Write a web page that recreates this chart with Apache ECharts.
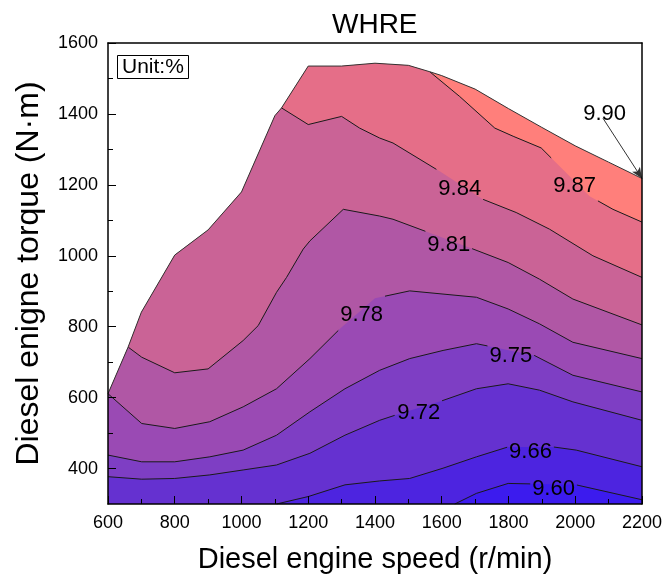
<!DOCTYPE html>
<html>
<head>
<meta charset="utf-8">
<script src="https://cdn.jsdelivr.net/npm/echarts@6/dist/echarts.min.js"></script>
<style>
  html, body { margin: 0; padding: 0; background: #fff; }
  #chart { width: 665px; height: 579px; }
</style>
</head>
<body>
<div id="chart"></div>
<script>
// Axis ticks
const speedTicks = [600, 800, 1000, 1200, 1400, 1600, 1800, 2000, 2200];
const torqueTicks = [400, 600, 800, 1000, 1200, 1400, 1600];
const torqueMinorTicks = [500, 700, 900, 1100, 1300, 1500];

// Full-load torque curve, [speed r/min, torque N·m]
const fullLoad = [[600, 611], [660, 742], [700, 841], [800, 1002], [900, 1073], [1000, 1180],
  [1100, 1395], [1120, 1417], [1200, 1535], [1300, 1535], [1400, 1543], [1500, 1537],
  [1564, 1519], [1600, 1508], [1700, 1470], [1800, 1415], [1900, 1362], [2000, 1310],
  [2100, 1264], [2200, 1218]];

// Iso-WHRE lines (%), [speed, torque]
const iso960 = [[1639, 300], [1704, 330], [1799, 358], [2003, 354], [2200, 312]];
const iso966 = [[1105, 300], [1200, 321], [1310, 354], [1414, 365], [1504, 372], [1604, 401],
  [1704, 433], [1799, 461], [1933, 461], [2003, 452], [2200, 405]];
const iso972 = [[600, 377], [701, 370], [800, 372], [905, 382], [1005, 396], [1105, 410],
  [1205, 443], [1310, 494], [1414, 536], [1459, 550], [1604, 592], [1704, 625], [1799, 639],
  [1893, 621], [1993, 588], [2200, 536]];
const iso975 = [[600, 438], [701, 419], [800, 419], [905, 433], [1005, 452], [1105, 494],
  [1205, 560], [1310, 625], [1414, 677], [1504, 710], [1604, 733], [1704, 752], [1878, 719],
  [1993, 663], [2200, 616]];
const iso978 = [[600, 611], [701, 527], [800, 513], [905, 532], [1005, 574], [1105, 625],
  [1205, 710], [1295, 794], [1400, 880], [1504, 901], [1704, 883], [1799, 850], [1893, 808],
  [1993, 756], [2200, 710]];
const iso981 = [[661, 742], [701, 714], [800, 670], [900, 681], [1005, 761], [1050, 803],
  [1105, 897], [1135, 939], [1185, 1019], [1205, 1042], [1305, 1131], [1414, 1112],
  [1454, 1103], [1694, 1019], [1799, 981], [1893, 934], [1993, 878], [2200, 805]];
const iso984 = [[1120, 1417], [1200, 1370], [1300, 1393], [1354, 1360], [1414, 1332],
  [1454, 1318], [1594, 1238], [1724, 1159], [1823, 1122], [1923, 1075], [2053, 1000], [2200, 939]];
const iso987 = [[1564, 1519], [1654, 1449], [1759, 1360], [1814, 1337], [1898, 1304],
  [1963, 1243], [2043, 1168], [2113, 1131], [2200, 1095]];

const levelNames = ['9.60', '9.66', '9.72', '9.75', '9.78', '9.81', '9.84', '9.87'];
const isoLines = [iso960, iso966, iso972, iso975, iso978, iso981, iso984, iso987];
// speed at which each level is labelled
const labelSpeeds = [1935, 1866, 1531, 1807, 1360, 1621, 1654, 1998];

// Fill colours, lowest band first (below 9.60 ... above 9.87)
const bandColors = ['#3c1bee', '#4d24e0', '#6531d0', '#7e3ec4', '#9a4ab4', '#b057a5',
  '#ca6396', '#e56e88', '#ff7f7b'];

// 9.90 callout: text anchor and arrow start
const callout = { text: '9.90', textAt: [2088, 1400], arrowFrom: [2083, 1388] };

const Y_MIN = 300, Y_MAX = 1600, X_MIN = 600, X_MAX = 2200;
const FONT = '"Liberation Sans", Arial, sans-serif';
const LABEL_HALF_GAP = 70; // speed units left blank either side of a line label

function torqueAt(line, s) {
  for (let i = 1; i < line.length; i++) {
    const a = line[i - 1], b = line[i];
    if (s >= a[0] && s <= b[0]) {
      const t = (s - a[0]) / (b[0] - a[0]);
      return a[1] + t * (b[1] - a[1]);
    }
  }
  return line[line.length - 1][1];
}

// upper envelope of everything below an iso line
function envelope(line) {
  if (line[0][1] <= Y_MIN) return line.slice();
  return fullLoad.filter(p => p[0] < line[0][0]).concat(line);
}

const series = [];

function areaSeries(data, color) {
  return {
    type: 'line', data: data, showSymbol: false, symbol: 'none', silent: true,
    lineStyle: { width: 0, opacity: 0 },
    areaStyle: { color: color, opacity: 1, origin: 'start' }
  };
}

// filled bands, top to bottom
series.push(areaSeries(fullLoad, bandColors[8]));
for (let i = isoLines.length - 1; i >= 0; i--) {
  series.push(areaSeries(envelope(isoLines[i]), bandColors[i]));
}

// iso line strokes, broken where the label sits
isoLines.forEach((line, i) => {
  const s0 = labelSpeeds[i] - LABEL_HALF_GAP, s1 = labelSpeeds[i] + LABEL_HALF_GAP;
  const left = line.filter(p => p[0] < s0).concat([[s0, torqueAt(line, s0)]]);
  const right = [[s1, torqueAt(line, s1)]].concat(line.filter(p => p[0] > s1));
  [left, right].forEach(seg => {
    series.push({
      type: 'line', data: seg, showSymbol: false, symbol: 'none', silent: true,
      lineStyle: { color: '#1a1a1a', width: 1 }
    });
  });
});

// full-load boundary and the 9.90 arrow
series.push({
  type: 'line', data: fullLoad, showSymbol: false, symbol: 'none', silent: true,
  lineStyle: { color: '#333', width: 1 },
  markLine: {
    silent: true, symbol: ['none', 'arrow'], symbolSize: [7, 11],
    lineStyle: { color: '#333', width: 1, type: 'solid' },
    label: { show: false },
    data: [[{ coord: callout.arrowFrom }, { coord: fullLoad[fullLoad.length - 1] }]]
  }
});

const labelStyle = {
  show: true, position: 'inside', formatter: p => p.value[2],
  fontFamily: FONT, fontSize: 22, color: '#000', textBorderWidth: 0, opacity: 1
};

// level labels
const labelData = isoLines.map((line, i) => [labelSpeeds[i], torqueAt(line, labelSpeeds[i]), levelNames[i]]);
series.push({
  type: 'scatter', data: labelData, symbolSize: 0, silent: true,
  itemStyle: { color: 'transparent' },
  label: Object.assign({ offset: [0, 5] }, labelStyle),
  z: 5
});
series.push({
  type: 'scatter', data: [[callout.textAt[0], callout.textAt[1], callout.text]], symbolSize: 0, silent: true,
  itemStyle: { color: 'transparent' },
  label: labelStyle,
  z: 5
});

const plain = v => String(v);

const chart = echarts.init(document.getElementById('chart'), null, { renderer: 'canvas' });
chart.setOption({
  animation: false,
  backgroundColor: '#fff',
  title: [
    { text: 'WHRE', left: 327, top: 6, textStyle: { fontFamily: FONT, fontSize: 28, fontWeight: 'normal', color: '#000' } },
    { text: 'Unit:%', left: 117, top: 55, padding: [2, 5, 1, 5], borderColor: '#000', borderWidth: 1,
      textStyle: { fontFamily: FONT, fontSize: 21, fontWeight: 'normal', color: '#000' } }
  ],
  grid: { left: 108, right: 23, top: 43, bottom: 72, containLabel: false },
  xAxis: [
    {
      type: 'value', min: X_MIN, max: X_MAX, interval: 200, z: 10,
      name: 'Diesel engine speed (r/min)', nameLocation: 'middle', nameGap: 41,
      nameTextStyle: { fontFamily: FONT, fontSize: 29, color: '#000' },
      axisLine: { show: true, lineStyle: { color: '#000', width: 1.5 } },
      axisTick: { show: true, inside: true, length: 8, lineStyle: { color: '#000', width: 1 } },
      minorTick: { show: true, splitNumber: 2, length: 5, lineStyle: { color: '#000', width: 1 } },
      splitLine: { show: false },
      axisLabel: { fontFamily: FONT, fontSize: 18, color: '#000', margin: 10, formatter: plain }
    },
    {
      type: 'value', position: 'top', min: X_MIN, max: X_MAX, z: 10,
      axisLine: { show: true, lineStyle: { color: '#000', width: 1.5 } },
      axisTick: { show: false }, axisLabel: { show: false }, splitLine: { show: false }
    }
  ],
  yAxis: [
    {
      type: 'value', min: Y_MIN, max: Y_MAX, z: 10, position: 'left',
      name: 'Diesel enigne torque (N·m)', nameLocation: 'middle', nameGap: 63,
      nameTextStyle: { fontFamily: FONT, fontSize: 32, color: '#000' },
      axisLine: { show: true, lineStyle: { color: '#000', width: 1.5 } },
      axisTick: { show: true, inside: true, length: 8, customValues: torqueTicks, lineStyle: { color: '#000', width: 1 } },
      splitLine: { show: false },
      axisLabel: { fontFamily: FONT, fontSize: 18, color: '#000', margin: 10, customValues: torqueTicks, formatter: plain }
    },
    {
      type: 'value', min: Y_MIN, max: Y_MAX, z: 10, position: 'left',
      axisLine: { show: false },
      axisTick: { show: true, inside: true, length: 5, customValues: torqueMinorTicks, lineStyle: { color: '#000', width: 1 } },
      axisLabel: { show: false }, splitLine: { show: false }
    },
    {
      type: 'value', min: Y_MIN, max: Y_MAX, z: 10, position: 'right',
      axisLine: { show: true, lineStyle: { color: '#000', width: 1.5 } },
      axisTick: { show: false }, axisLabel: { show: false }, splitLine: { show: false }
    }
  ],
  series: series
});
</script>
</body>
</html>
